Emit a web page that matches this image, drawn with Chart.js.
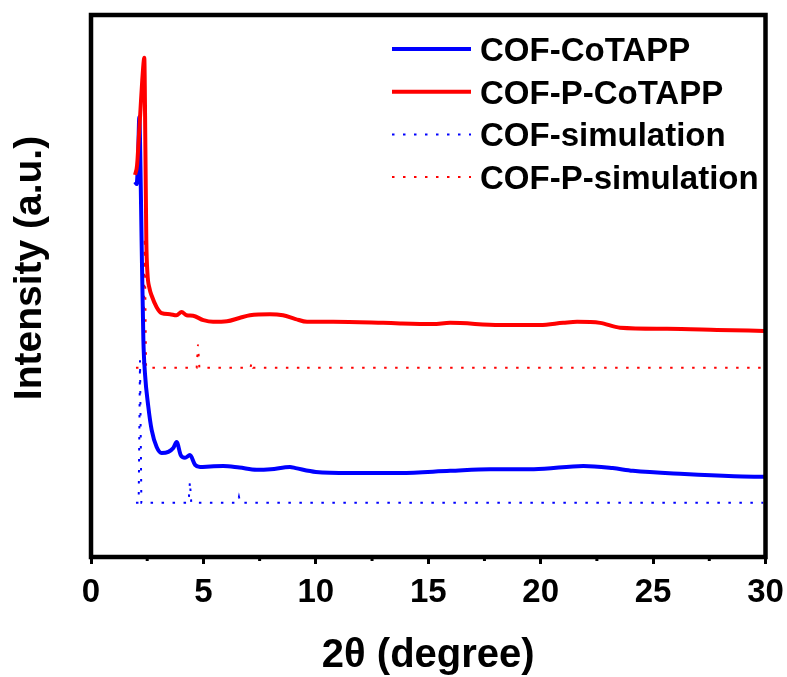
<!DOCTYPE html>
<html>
<head>
<meta charset="utf-8">
<script src="https://cdn.jsdelivr.net/npm/chart.js@4"></script>
<style>
  body { margin: 0; background: #fff; }
</style>
</head>
<body>
<canvas id="xrdChart" width="787" height="677"></canvas>
<script>
// PXRD patterns, intensity in arbitrary units (stacked, offset traces)
let cofTheta = [1.96, 2.03, 2.09, 2.15, 2.2, 2.25, 2.33, 2.4, 2.55, 2.7, 2.92, 3.14, 3.44, 3.66, 3.81, 3.99, 4.18, 4.4, 4.63, 4.85, 5.3, 5.88, 6.6, 7.37, 8.0, 8.85, 9.1, 10.0, 11.5, 13.75, 15.97, 17.75, 19.7, 21.9, 23.2, 24.1, 26.4, 28.6, 29.94];
let cofIntensity = [692, 688, 730, 812, 720, 585, 400, 339, 277, 234, 203, 192, 194, 201, 212, 188, 183, 188, 170, 166, 167, 168, 165, 161, 162, 166, 164, 157, 155, 155, 159, 162, 162, 168, 164, 159, 153, 149, 148];

let cofPTheta = [1.96, 2.05, 2.12, 2.2, 2.28, 2.35, 2.37, 2.42, 2.46, 2.51, 2.6, 2.7, 2.92, 3.14, 3.51, 3.8, 4.03, 4.25, 4.54, 5.0, 5.43, 6.05, 6.6, 7.07, 7.96, 8.54, 9.1, 9.61, 10.77, 12.99, 13.75, 15.21, 15.97, 18.19, 19.97, 21.0, 21.62, 22.64, 23.53, 25.62, 27.85, 29.94];
let cofPIntensity = [705, 723, 769, 825, 880, 917, 921, 751, 585, 524, 496, 482, 461, 450, 448, 446, 452, 446, 445, 437, 434, 435, 441, 446, 448, 446, 439, 434, 434, 432, 431, 430, 432, 428, 428, 432, 434, 432, 423, 421, 419, 417];

let cofSimTheta = [2.0, 2.12, 2.18, 2.24, 4.34, 4.4, 4.46, 6.52, 6.58, 6.64, 29.9];
let cofSimIntensity = [100, 100, 363, 100, 100, 139, 100, 100, 111, 100, 100];

let cofPSimTheta = [2.0, 2.33, 2.39, 2.45, 4.7, 4.76, 4.82, 7.09, 7.15, 7.21, 9.46, 9.52, 9.58, 29.9];
let cofPSimIntensity = [349, 349, 590, 349, 349, 392, 349, 349, 360, 349, 349, 351, 349, 349];

let seriesNames = ["COF-CoTAPP", "COF-P-CoTAPP", "COF-simulation", "COF-P-simulation"];

const fontFamily = "'Liberation Sans', Arial, sans-serif";

function toPoints(xs, ys) {
	return xs.map((x, i) => ({ x: x, y: ys[i] }));
}

// frame, minor ticks, y title and legend drawn on top of the plot
const framePlugin = {
	id: "frame",
	afterDraw(chart) {
		const { ctx, chartArea } = chart;
		const xScale = chart.scales.x;
		ctx.save();
		ctx.strokeStyle = "#000";
		ctx.lineWidth = 4.5;
		ctx.strokeRect(chartArea.left, chartArea.top, chartArea.right - chartArea.left, chartArea.bottom - chartArea.top);

		// minor ticks between the labelled ones
		ctx.lineWidth = 3;
		for (let v = 2.5; v < 30; v += 5) {
			const px = xScale.getPixelForValue(v);
			ctx.beginPath();
			ctx.moveTo(px, chartArea.bottom);
			ctx.lineTo(px, chartArea.bottom + 4);
			ctx.stroke();
		}

		// y axis title
		ctx.fillStyle = "#000";
		ctx.font = "bold 39px " + fontFamily;
		ctx.textAlign = "center";
		ctx.textBaseline = "middle";
		ctx.translate(30, 268);
		ctx.rotate(-Math.PI / 2);
		ctx.fillText("Intensity (a.u.)", 0, 0);
		ctx.restore();

		// legend
		ctx.save();
		ctx.font = "bold 33px " + fontFamily;
		ctx.textAlign = "left";
		ctx.textBaseline = "alphabetic";
		chart.data.datasets.forEach((ds, i) => {
			const y = 49 + i * 42.7;
			ctx.strokeStyle = ds.borderColor;
			ctx.lineWidth = ds.borderWidth;
			ctx.setLineDash(ds.borderDash || []);
			ctx.beginPath();
			ctx.moveTo(392, y);
			ctx.lineTo(471, y);
			ctx.stroke();
			ctx.setLineDash([]);
			ctx.fillStyle = "#000";
			ctx.fillText(ds.label, 480, y + 12);
		});
		ctx.restore();
	},
};

new Chart(document.getElementById("xrdChart"), {
	type: "line",
	data: {
		datasets: [
			{
				label: seriesNames[0],
				data: toPoints(cofTheta, cofIntensity),
				borderColor: "#0000ff",
				borderWidth: 4,
				cubicInterpolationMode: "monotone",
				order: 1,
			},
			{
				label: seriesNames[1],
				data: toPoints(cofPTheta, cofPIntensity),
				borderColor: "#ff0000",
				borderWidth: 4,
				cubicInterpolationMode: "monotone",
				order: 0,
			},
			{
				label: seriesNames[2],
				data: toPoints(cofSimTheta, cofSimIntensity),
				borderColor: "#0000ff",
				borderWidth: 2,
				borderDash: [2.5, 8.5],
				order: 2,
			},
			{
				label: seriesNames[3],
				data: toPoints(cofPSimTheta, cofPSimIntensity),
				borderColor: "#ff0000",
				borderWidth: 2,
				borderDash: [2.5, 8.5],
				order: 3,
			},
		],
	},
	options: {
		responsive: false,
		animation: false,
		elements: {
			point: { radius: 0 },
			line: { tension: 0, fill: false },
		},
		layout: {
			padding: { top: 15, right: 21.5, left: 0, bottom: 0 },
		},
		plugins: {
			legend: { display: false },
			tooltip: { enabled: false },
		},
		scales: {
			x: {
				type: "linear",
				min: 0,
				max: 30,
				afterFit: (scale) => {
					scale.height = 120;
					// keep the edge labels from pushing the plot area in
					scale.paddingLeft = 0;
					scale.paddingRight = 0;
				},
				border: { display: false },
				grid: {
					drawOnChartArea: false,
					drawTicks: true,
					tickLength: 7,
					tickWidth: (c) => (c.tick && c.tick.value % 5 === 0 ? 3 : 0),
					tickColor: "#000",
				},
				ticks: {
					stepSize: 2.5,
					autoSkip: false,
					maxRotation: 0,
					padding: 9,
					color: "#000",
					font: { family: fontFamily, size: 33, weight: "bold" },
					callback: (v) => (v % 5 === 0 ? v : ""),
				},
				title: {
					display: true,
					text: "2θ (degree)",
					color: "#000",
					font: { family: fontFamily, size: 40, weight: "bold", lineHeight: 1 },
					padding: { top: 0, bottom: 1 },
				},
			},
			y: {
				type: "linear",
				min: 0,
				max: 1000,
				afterFit: (scale) => {
					scale.width = 91;
				},
				border: { display: false },
				grid: { display: false },
				ticks: { display: false },
			},
		},
	},
	plugins: [framePlugin],
});
</script>
</body>
</html>
